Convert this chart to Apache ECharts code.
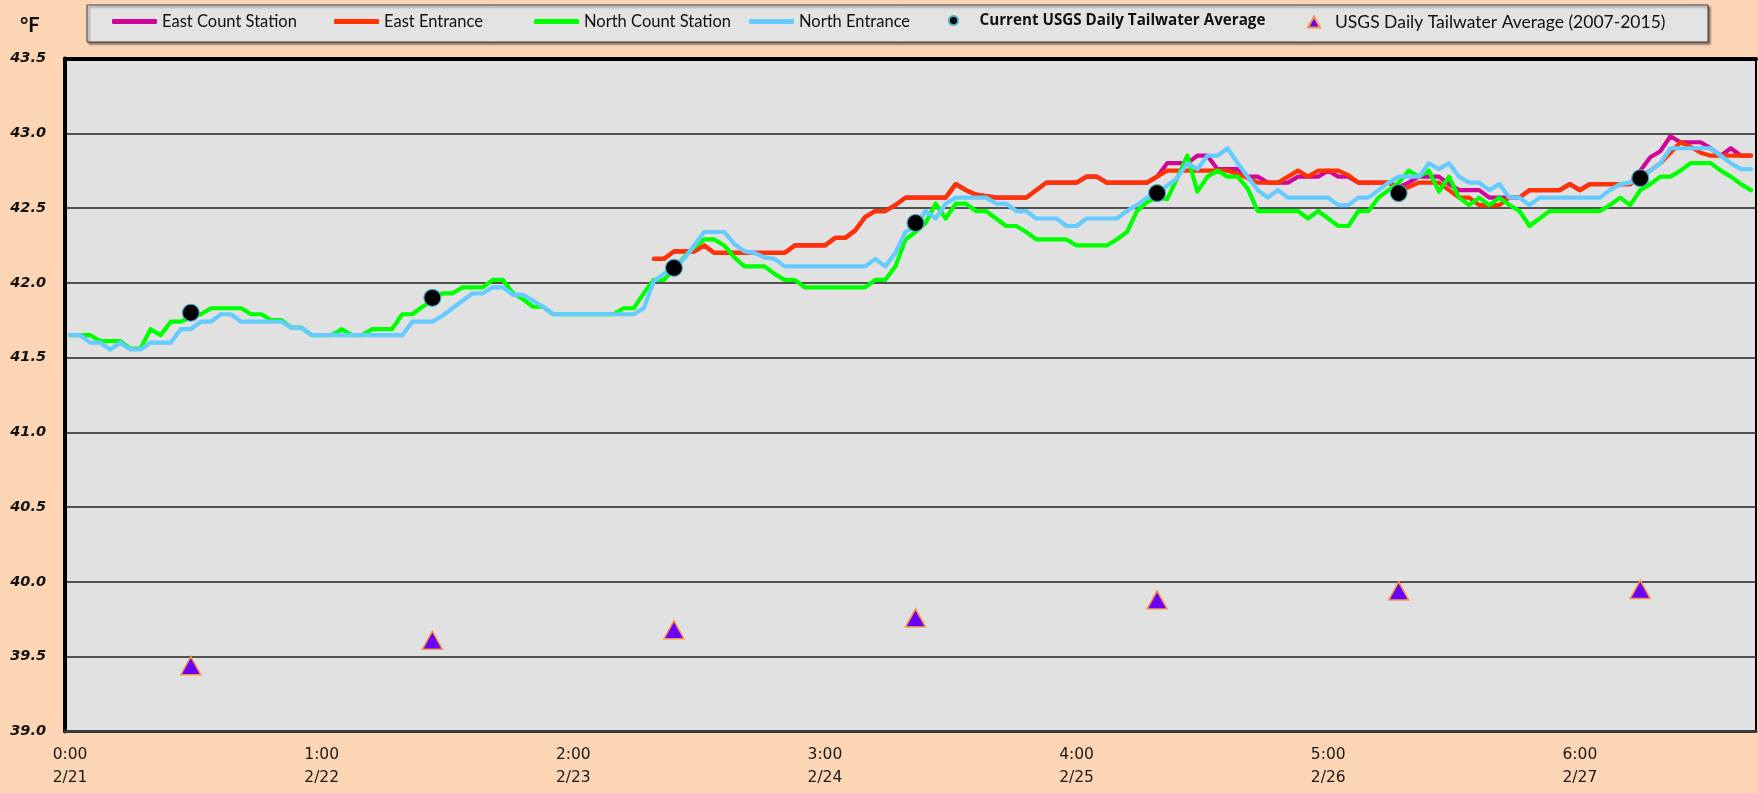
<!DOCTYPE html>
<html>
<head>
<meta charset="utf-8">
<script src="https://cdn.jsdelivr.net/npm/echarts@6/dist/echarts.min.js"></script>
<style>
  html, body { margin: 0; padding: 0; background: #FCD5B4; }
  #chart { width: 1758px; height: 793px; }
</style>
</head>
<body>
<div id="chart"></div>
<script>
// ---------- DATA ----------
const days = ['2/21', '2/22', '2/23', '2/24', '2/25', '2/26', '2/27'];
const hoursPerDay = 24;

// hourly temperatures (°F), index 0 = 2/21 0:00
const northCountStation = [
  41.65,41.65,41.65,41.61,41.61,41.61,41.56,41.56,41.69,41.65,
  41.74,41.74,41.77,41.79,41.83,41.83,41.83,41.83,41.79,41.79,
  41.75,41.75,41.70,41.70,41.65,41.65,41.65,41.69,41.65,41.65,
  41.69,41.69,41.69,41.79,41.79,41.84,41.88,41.93,41.93,41.97,
  41.97,41.97,42.02,42.02,41.93,41.89,41.84,41.84,41.79,41.79,
  41.79,41.79,41.79,41.79,41.79,41.83,41.83,41.93,42.02,42.02,
  42.09,42.17,42.24,42.29,42.29,42.25,42.17,42.11,42.11,42.11,
  42.06,42.02,42.02,41.97,41.97,41.97,41.97,41.97,41.97,41.97,
  42.02,42.02,42.11,42.29,42.34,42.40,42.53,42.43,42.53,42.53,
  42.48,42.48,42.43,42.38,42.38,42.34,42.29,42.29,42.29,42.29,
  42.25,42.25,42.25,42.25,42.29,42.34,42.48,42.54,42.57,42.56,
  42.70,42.85,42.61,42.71,42.75,42.71,42.71,42.63,42.48,42.48,
  42.48,42.48,42.48,42.43,42.48,42.43,42.38,42.38,42.48,42.48,
  42.57,42.62,42.67,42.75,42.71,42.75,42.61,42.71,42.57,42.52,
  42.57,42.52,42.57,42.52,42.48,42.38,42.43,42.48,42.48,42.48,
  42.48,42.48,42.48,42.52,42.57,42.52,42.62,42.66,42.71,42.71,
  42.75,42.80,42.80,42.80,42.75,42.71,42.66,42.62
];

const northEntrance = [
  41.65,41.65,41.60,41.60,41.555,41.60,41.555,41.555,41.60,41.60,
  41.60,41.69,41.69,41.74,41.74,41.79,41.79,41.74,41.74,41.74,
  41.74,41.74,41.70,41.70,41.65,41.65,41.65,41.65,41.65,41.65,
  41.65,41.65,41.65,41.65,41.74,41.74,41.74,41.78,41.83,41.88,
  41.93,41.93,41.97,41.97,41.92,41.92,41.88,41.84,41.79,41.79,
  41.79,41.79,41.79,41.79,41.79,41.79,41.79,41.83,42.01,42.06,
  42.10,42.16,42.25,42.34,42.34,42.34,42.26,42.21,42.20,42.17,
  42.16,42.11,42.11,42.11,42.11,42.11,42.11,42.11,42.11,42.11,
  42.16,42.11,42.20,42.34,42.38,42.48,42.43,42.53,42.57,42.57,
  42.57,42.57,42.53,42.53,42.48,42.48,42.43,42.43,42.43,42.38,
  42.38,42.43,42.43,42.43,42.43,42.48,42.52,42.57,42.60,42.65,
  42.70,42.80,42.76,42.85,42.85,42.90,42.80,42.71,42.62,42.57,
  42.62,42.57,42.57,42.57,42.57,42.57,42.52,42.52,42.57,42.57,
  42.62,42.67,42.71,42.71,42.71,42.80,42.76,42.80,42.71,42.67,
  42.67,42.62,42.66,42.57,42.57,42.52,42.57,42.57,42.57,42.57,
  42.57,42.57,42.57,42.62,42.66,42.67,42.70,42.75,42.80,42.90,
  42.90,42.90,42.90,42.90,42.85,42.80,42.76,42.76
];

// East stations start reporting at hour index 58 (2/23 10:00)
const eastStart = 58;
const eastEntrance = [
  42.16,42.16,42.21,42.21,42.21,42.25,42.20,42.20,42.20,42.20,
  42.20,42.20,42.20,42.20,42.25,42.25,42.25,42.25,42.30,42.30,
  42.35,42.44,42.48,42.48,42.52,42.57,42.57,42.57,42.57,42.57,
  42.66,42.62,42.59,42.58,42.57,42.57,42.57,42.57,42.62,42.67,
  42.67,42.67,42.67,42.71,42.71,42.67,42.67,42.67,42.67,42.67,
  42.71,42.75,42.75,42.75,42.75,42.75,42.75,42.75,42.73,42.70,
  42.67,42.67,42.67,42.71,42.75,42.71,42.75,42.75,42.75,42.72,
  42.67,42.67,42.67,42.67,42.62,42.64,42.67,42.67,42.67,42.62,
  42.57,42.57,42.52,42.52,42.52,42.57,42.57,42.62,42.62,42.62,
  42.62,42.66,42.62,42.66,42.66,42.66,42.66,42.66,42.71,42.75,
  42.80,42.87,42.94,42.91,42.87,42.85,42.85,42.85,42.85,42.85
];
const eastCountStation = [
  42.16,42.16,42.21,42.21,42.21,42.25,42.20,42.20,42.20,42.20,
  42.20,42.20,42.20,42.20,42.25,42.25,42.25,42.25,42.30,42.30,
  42.35,42.44,42.48,42.48,42.52,42.57,42.57,42.57,42.57,42.57,
  42.66,42.62,42.59,42.58,42.57,42.57,42.57,42.57,42.62,42.67,
  42.67,42.67,42.67,42.71,42.71,42.67,42.67,42.67,42.67,
  42.67,42.71,42.80,42.80,42.80,42.85,42.85,42.76,42.76,42.76,
  42.71,42.71,42.67,42.67,42.67,42.71,42.71,42.71,42.75,42.71,
  42.71,42.67,42.67,42.67,42.67,42.64,42.67,42.71,42.71,42.71,
  42.66,42.62,42.62,42.62,42.57,42.57,42.57,42.57,42.62,42.62,
  42.62,42.62,42.66,42.62,42.66,42.66,42.66,42.66,42.66,42.75,
  42.84,42.88,42.98,42.94,42.94,42.94,42.90,42.85,42.90,42.85,42.85
];

// daily averages (placed at noon of each day)
const dailyHours = [12, 36, 60, 84, 108, 132, 156];
const currentDailyAvg = [41.80, 41.90, 42.10, 42.40, 42.60, 42.60, 42.70];
const historicDailyAvg = [39.44, 39.61, 39.68, 39.76, 39.88, 39.94, 39.95];

const yTicks = { min: 39.0, max: 43.5, step: 0.5 };

// ---------- BUILD ----------
const categories = [];
days.forEach(d => { for (let h = 0; h < hoursPerDay; h++) categories.push(h + ':00\n' + d); });
const pad = arr => new Array(eastStart).fill(null).concat(arr);

const names = ['East Count Station', 'East Entrance', 'North Count Station', 'North Entrance',
               'Current USGS Daily Tailwater Average', 'USGS Daily Tailwater Average (2007-2015)'];
const colors = ['#D0069B', '#FF3300', '#00FF00', '#66CCFF'];

function lineSeries(i, data) {
  return {
    name: names[i], type: 'line', data: data, showSymbol: false, symbol: 'none',
    connectNulls: false, z: 2 + i,
    lineStyle: { color: colors[i], width: 4.2, cap: 'round', join: 'round' },
    itemStyle: { color: colors[i] }, emphasis: { disabled: true }, animation: false
  };
}

const legendText = { fontFamily: 'Lato', fontSize: 16.5, color: '#111' };
function lg(i, left, extra) {
  return Object.assign({
    data: [names[i]], left: left, top: 13, padding: 0, itemGap: 0,
    itemWidth: 45, itemHeight: 5, icon: 'roundRect', selectedMode: false,
    textStyle: Object.assign({}, legendText)
  }, extra || {});
}

const option = {
  backgroundColor: '#FCD5B4',
  animation: false,
  title: { text: '°F', left: 15, top: 11, textStyle: { fontFamily: 'Lato', fontWeight: 'bold', fontSize: 20, color: '#111' } },
  graphic: [{
    type: 'rect', z: -1, silent: true,
    shape: { x: 87, y: 5, width: 1621, height: 37 },
    style: { fill: '#E3E3E3', stroke: '#3a3a3a', lineWidth: 1, shadowColor: 'rgba(0,0,0,0.45)', shadowOffsetX: 2, shadowOffsetY: 2, shadowBlur: 2 }
  }],
  legend: [
    lg(0, 112), lg(1, 334), lg(2, 534), lg(3, 749),
    lg(4, 948, { icon: 'circle', itemWidth: 10, itemHeight: 9,
      textStyle: Object.assign({}, legendText, { fontFamily: 'Open Sans', fontWeight: 'bold', fontSize: 15.2, padding: [0, 0, 0, 16] }) }),
    lg(5, 1307, { icon: 'triangle', itemWidth: 12, itemHeight: 11,
      textStyle: Object.assign({}, legendText, { fontSize: 17.5, padding: [0, 0, 0, 10] }) })
  ],
  grid: { left: 65, right: 2, top: 58.5, bottom: 61.5, show: true, backgroundColor: '#E1E1E1', borderColor: '#000', borderWidth: 2 },
  xAxis: [{
    type: 'category', data: categories, boundaryGap: true,
    axisLine: { show: true, onZero: false, lineStyle: { color: '#3a3a3a', width: 3 } },
    axisTick: { show: false },
    axisLabel: { interval: 24, fontFamily: 'DejaVu Sans', fontSize: 15.5, color: '#1a1a1a', lineHeight: 23, margin: 12 },
    splitLine: { show: false }
  }, {
    type: 'category', data: categories, position: 'top', boundaryGap: true,
    axisLine: { show: true, onZero: false, lineStyle: { color: '#000', width: 4 } },
    axisTick: { show: false }, axisLabel: { show: false }, splitLine: { show: false }
  }],
  yAxis: {
    type: 'value', min: yTicks.min, max: yTicks.max, interval: yTicks.step,
    axisLine: { show: true, onZero: false, lineStyle: { color: '#000', width: 4 } },
    axisTick: { show: false },
    axisLabel: { formatter: v => v.toFixed(1), fontFamily: 'DejaVu Sans', fontWeight: 'bold', fontStyle: 'italic', fontSize: 14.5, color: '#111', margin: 19 },
    splitLine: { show: true, lineStyle: { color: '#222', width: 1.5 } }
  },
  series: [
    lineSeries(0, pad(eastCountStation)),
    lineSeries(1, pad(eastEntrance)),
    lineSeries(2, northCountStation),
    lineSeries(3, northEntrance),
    {
      name: names[4], type: 'scatter', z: 10, symbol: 'circle', symbolSize: 17,
      data: dailyHours.map((h, i) => [h, currentDailyAvg[i]]),
      itemStyle: { color: '#000', borderColor: '#4BACC6', borderWidth: 1.2, opacity: 1 },
      emphasis: { disabled: true }
    },
    {
      name: names[5], type: 'scatter', z: 10, symbol: 'triangle', symbolSize: [20, 18],
      data: dailyHours.map((h, i) => [h, historicDailyAvg[i]]),
      itemStyle: { color: '#6A00F4', borderColor: '#F79646', borderWidth: 1.5, opacity: 1 },
      emphasis: { disabled: true }
    }
  ]
};

const chart = echarts.init(document.getElementById('chart'), null, { renderer: 'canvas' });
chart.setOption(option);
</script>
</body>
</html>
